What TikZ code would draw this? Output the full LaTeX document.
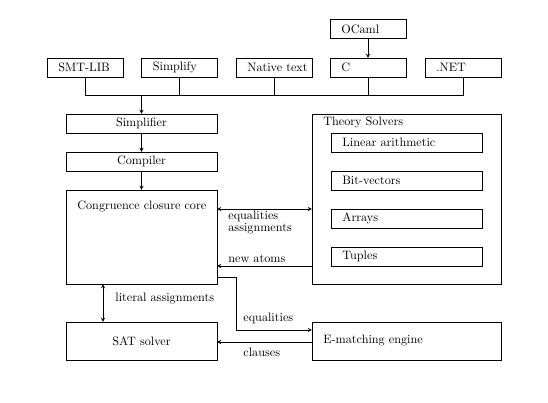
\documentclass[tikz,border=0pt]{standalone}
\begin{document}
\begin{tikzpicture}
[x=0.82pt,y=-0.82pt,>=stealth,line width=0.6pt,
box/.style={draw,rectangle,inner sep=0pt,outer sep=0pt},
small/.style={box,minimum width=62.3pt,minimum height=15.6pt},
wide/.style={box,minimum width=123.8pt,minimum height=15.6pt},
txt/.style={anchor=west,inner sep=0pt,xshift=9pt},
lbl/.style={anchor=west,inner sep=0pt},]

\useasboundingbox (0,0) rectangle (548,403);

%Input formats
\node (ocaml) at (368,29)[small] {};
\node (smt) at (85,67.5)[small] {};
\node (simp) at (179.5,67.5)[small] {};
\node (native) at (274,67.5)[small] {};
\node (c) at (368,67.5)[small] {};
\node (net) at (463,67.5)[small] {};

\node (ocamlt) at (ocaml.west)[txt] {OCaml};
\node (smtt) at (smt.west)[txt] {SMT-LIB};
\node (simpt) at (simp.west)[txt] {Simplify};
\node (nativet) at (native.west)[txt] {Native text};
\node (ct) at (c.west)[txt] {C};
\node (nett) at (net.west)[txt] {.NET};

%Front end and core
\node (simplifier) at (141.5,123.5)[wide] {Simplifier};
\node (compiler) at (141.5,161.5)[wide] {Compiler};
\node (ccc) at (141.5,237)[box,minimum width=123.8pt,minimum height=77.1pt] {};
\node (sat) at (141.5,341)[box,minimum width=123.8pt,minimum height=31.2pt] {SAT solver};
\node (ccct) at (66,206)[txt] {Congruence closure core};

%Theory solvers
\node (ts) at (406.5,199)[box,minimum width=155pt,minimum height=139.4pt] {};
\node (tst) at (312,122)[txt] {Theory Solvers};
\node (la) at (406.5,142.5)[wide] {};
\node (bv) at (406.5,180.5)[wide] {};
\node (ar) at (406.5,218.5)[wide] {};
\node (tu) at (406.5,256.5)[wide] {};
\node (lat) at (la.west)[txt] {Linear arithmetic};
\node (bvt) at (bv.west)[txt] {Bit-vectors};
\node (art) at (ar.west)[txt] {Arrays};
\node (tut) at (tu.west)[txt] {Tuples};

%E-matching
\node (em) at (406.5,341)[box,minimum width=155pt,minimum height=31.2pt] {};
\node (emt) at (em.west)[txt] {E-matching engine};

%Bus from the inputs
\coordinate (bus) at (85,95);
\draw[->] (ocaml) -- (c);
\draw (smt) -- (bus) -| (net);
\foreach \n in {simp,native,c}
  \draw (\n.south) -- (\n.south |- bus);
\draw[->] (simplifier.north |- bus) -- (simplifier);
\draw[->] (simplifier) -- (compiler);
\draw[->] (compiler) -- (ccc);

%Core and theories
\coordinate (eqa) at (217,209);
\coordinate (na) at (312,266);
\draw[<->] (eqa) -- (eqa -| ts.west);
\draw[->] (na) -- (na -| ccc.east);
\node (eqat) at (228,216)[lbl] {equalities};
\node (asst) at (228,229)[lbl] {assignments};
\node (nat) at (228,259)[lbl] {new atoms};

%Core and SAT solver
\coordinate (lit) at (103,284);
\draw[<->] (lit) -- (lit |- sat.north);
\node (litt) at (115,299)[lbl] {literal assignments};

%Core, E-matching and SAT solver
\coordinate (eqo) at (217,277);
\coordinate (eqd) at (236,330);
\draw[->] (eqo) -| (eqd) -- (eqd -| em.west);
\node (eqt) at (243,318)[lbl] {equalities};
\coordinate (cl) at (312,342);
\draw[->] (cl) -- (cl -| sat.east);
\node (clt) at (243,352)[lbl] {clauses};

\end{tikzpicture}
\end{document}
